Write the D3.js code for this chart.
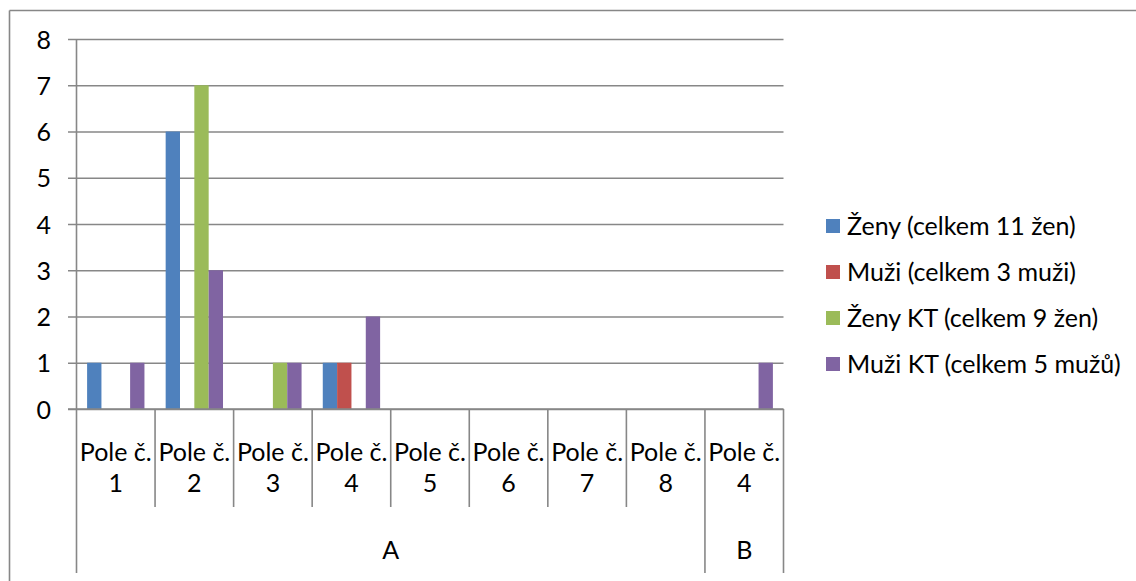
<!DOCTYPE html>
<html>
<head>
<meta charset="utf-8">
<script src="https://cdn.jsdelivr.net/npm/d3@7"></script>
<style>
  html, body { margin: 0; padding: 0; background: #fff; }
  svg { display: block; }
  text { font-family: Lato, "Open Sans", sans-serif; fill: #000; }
</style>
</head>
<body>
<svg id="chart" width="1136" height="581"></svg>
<script>
// ---- data ----
const categoryPrefix = "Pole č.";
const categoryNumbers = ["1", "2", "3", "4", "5", "6", "7", "8", "4"];
const groupNames = ["A", "B"];
const groupSizes = [8, 1];
const seriesNames = ["Ženy (celkem 11 žen)", "Muži (celkem 3 muži)", "Ženy KT (celkem 9 žen)", "Muži KT (celkem 5 mužů)"];
const seriesColors = ["#4F81BD", "#C0504D", "#9BBB59", "#8064A2"];
const zeny   = [1, 6, 0, 1, 0, 0, 0, 0, 0];
const muzi   = [0, 0, 0, 1, 0, 0, 0, 0, 0];
const zenyKT = [0, 7, 1, 0, 0, 0, 0, 0, 0];
const muziKT = [1, 3, 1, 2, 0, 0, 0, 0, 1];
const seriesValues = [zeny, muzi, zenyKT, muziKT];
const yTicks = [0, 1, 2, 3, 4, 5, 6, 7, 8];

// ---- layout ----
const W = 1136, H = 581;
const plotL = 76.5, plotR = 783.5, plotT = 39, plotB = 409;
const gridStart = 68;
const fs = 25;
const gray = "#878787";

const svg = d3.select("#chart");

// outer chart border (top and left visible)
svg.append("line").attr("x1", 9.5).attr("x2", W).attr("y1", 10.5).attr("y2", 10.5)
  .attr("stroke", gray).attr("stroke-width", 1.6);
svg.append("line").attr("x1", 9.5).attr("x2", 9.5).attr("y1", 10.5).attr("y2", H)
  .attr("stroke", gray).attr("stroke-width", 1.6);

const idx = d3.range(categoryNumbers.length);
const x0 = d3.scaleBand().domain(idx).range([plotL, plotR]).padding(0);
const bw = x0.bandwidth();
const x1 = d3.scaleBand().domain(d3.range(seriesNames.length))
  .range([bw * 0.135, bw * 0.865]).padding(0);
const y = d3.scaleLinear().domain([0, 8]).range([plotB, plotT]);

// y axis with gridlines
const yAxis = d3.axisLeft(y).tickValues(yTicks).tickFormat(d3.format("d"))
  .tickSizeInner(-(plotR - gridStart)).tickSizeOuter(0).tickPadding(17);
const gy = svg.append("g").attr("transform", `translate(${gridStart},0)`).call(yAxis);
gy.select(".domain").remove();
gy.selectAll(".tick line").attr("stroke", gray).attr("stroke-width", 1.6);
gy.selectAll(".tick text").attr("font-size", fs).attr("font-family", "Lato, sans-serif")
  .attr("fill", "#000").attr("dy", "0.36em");

// bars
const barData = [];
seriesValues.forEach((vals, s) => vals.forEach((v, i) => { if (v > 0) barData.push({ s, i, v }); }));
svg.append("g").selectAll("rect").data(barData).join("rect")
  .attr("x", d => x0(d.i) + x1(d.s))
  .attr("width", x1.bandwidth())
  .attr("y", d => y(d.v))
  .attr("height", d => y(0) - y(d.v))
  .attr("fill", d => seriesColors[d.s]);

// y axis line (extends down as group separator)
svg.append("line").attr("x1", plotL).attr("x2", plotL).attr("y1", plotT).attr("y2", 573)
  .attr("stroke", gray).attr("stroke-width", 1.6);
// zero line on top of bars
svg.append("line").attr("x1", gridStart).attr("x2", plotR).attr("y1", y(0)).attr("y2", y(0))
  .attr("stroke", gray).attr("stroke-width", 1.6);

// category separators
const groupEnds = d3.cumsum(groupSizes); // [8, 9]
for (let i = 1; i <= categoryNumbers.length; i++) {
  const xx = i < categoryNumbers.length ? x0(i) : plotR;
  const isGroupEnd = groupEnds.includes(i);
  svg.append("line").attr("x1", xx).attr("x2", xx)
    .attr("y1", plotB).attr("y2", isGroupEnd ? 573 : 507)
    .attr("stroke", gray).attr("stroke-width", 1.6);
}

// category labels
const cl = svg.append("g").attr("font-size", fs).attr("text-anchor", "middle");
idx.forEach(i => {
  const cx = x0(i) + bw / 2;
  cl.append("text").attr("x", cx).attr("y", 461).text(categoryPrefix);
  cl.append("text").attr("x", cx).attr("y", 492).text(categoryNumbers[i]);
});

// group labels
let start = 0;
groupNames.forEach((g, k) => {
  const end = start + groupSizes[k];
  const xa = x0(start);
  const xb = end < categoryNumbers.length ? x0(end) : plotR;
  cl.append("text").attr("x", (xa + xb) / 2).attr("y", 559).text(g);
  start = end;
});

// legend
const legY = [226, 272, 318, 364];
const lg = svg.append("g");
seriesNames.forEach((n, s) => {
  lg.append("rect").attr("x", 826).attr("y", legY[s] - 7).attr("width", 14).attr("height", 14)
    .attr("fill", seriesColors[s]);
  lg.append("text").attr("x", 847).attr("y", legY[s]).attr("dy", "0.36em")
    .attr("font-size", fs).text(n);
});
</script>
</body>
</html>
